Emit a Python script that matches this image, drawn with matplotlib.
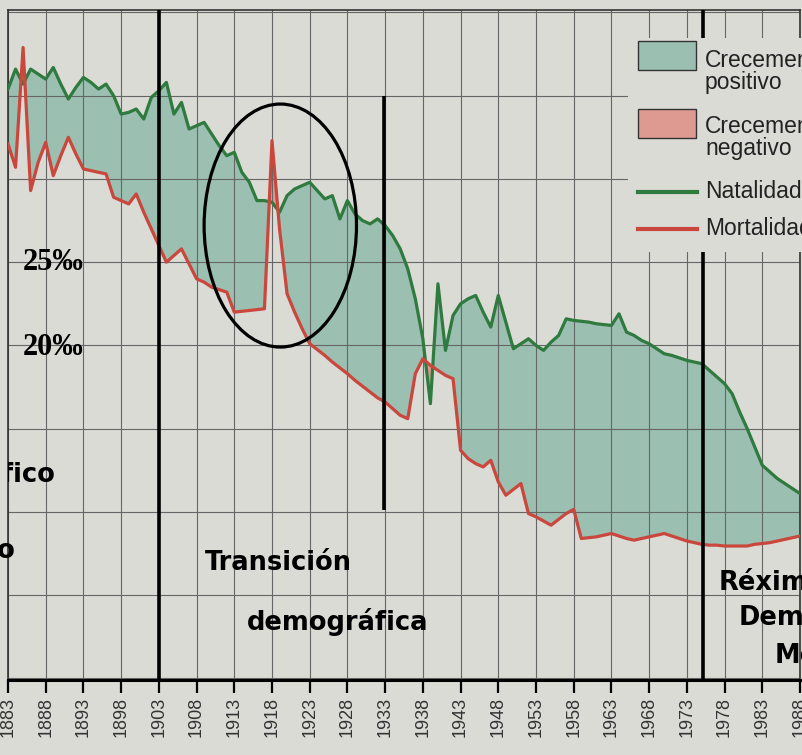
import matplotlib
matplotlib.use('Agg')
import numpy as np
import matplotlib.pyplot as plt
from matplotlib.patches import Ellipse, Rectangle
from matplotlib.lines import Line2D

anos = list(range(1883, 1989))

natalidade = [
    35.4, 36.6, 35.7, 36.6, 36.3, 36.0, 36.7, 35.7, 34.8, 35.5,   # 1883-1892
    36.1, 35.8, 35.4, 35.7, 35.0, 33.9, 34.0, 34.2, 33.6, 34.9,   # 1893-1902
    35.3, 35.8, 33.9, 34.6, 33.0, 33.2, 33.4, 32.7, 32.0, 31.4,   # 1903-1912
    31.6, 30.4, 29.8, 28.7, 28.7, 28.6, 28.0, 29.0, 29.4, 29.6,   # 1913-1922
    29.8, 29.3, 28.8, 29.0, 27.6, 28.7, 27.9, 27.5, 27.3, 27.6,   # 1923-1932
    27.2, 26.6, 25.8, 24.6, 22.8, 20.4, 16.5, 23.7, 19.7, 21.8,   # 1933-1942
    22.5, 22.8, 23.0, 22.0, 21.1, 23.0, 21.4, 19.8, 20.1, 20.4,   # 1943-1952
    20.0, 19.7, 20.2, 20.6, 21.6, 21.5, 21.45, 21.4, 21.3, 21.25, # 1953-1962
    21.2, 21.9, 20.8, 20.6, 20.3, 20.1, 19.8, 19.5, 19.4, 19.25,  # 1963-1972
    19.1, 19.0, 18.9, 18.5, 18.1, 17.7, 17.1, 16.0, 15.0, 13.9,   # 1973-1982
    12.8, 12.4, 12.0, 11.7, 11.4, 11.1,                           # 1983-1988
]

mortalidade = [
    32.1, 30.7, 37.9, 29.3, 31.0, 32.2, 30.2, 31.4, 32.5, 31.5,   # 1883-1892
    30.6, 30.5, 30.4, 30.3, 28.9, 28.7, 28.5, 29.1, 28.0, 27.0,   # 1893-1902
    26.0, 25.0, 25.4, 25.8, 24.9, 24.0, 23.8, 23.5, 23.35, 23.2,  # 1903-1912
    22.0, 22.05, 22.1, 22.15, 22.2, 32.3, 27.0, 23.1, 22.0, 21.0, # 1913-1922
    20.1, 19.75, 19.4, 19.0, 18.65, 18.3, 17.9, 17.55, 17.2, 16.85, # 1923-1932
    16.6, 16.2, 15.8, 15.6, 18.3, 19.2, 18.8, 18.5, 18.2, 18.0,   # 1933-1942
    13.7, 13.2, 12.9, 12.7, 13.1, 11.8, 11.0, 11.35, 11.7, 9.9,   # 1943-1952
    9.7, 9.45, 9.2, 9.55, 9.9, 10.15, 8.4, 8.45, 8.5, 8.6,        # 1953-1962
    8.7, 8.55, 8.4, 8.3, 8.4, 8.5, 8.6, 8.7, 8.55, 8.4,           # 1963-1972
    8.25, 8.15, 8.05, 8.0, 8.0, 7.95, 7.95, 7.95, 7.95, 8.05,     # 1973-1982
    8.1, 8.15, 8.25, 8.35, 8.45, 8.55,                            # 1983-1988
]

ticks_anos = list(range(1883, 1989, 5))

# cores
fondo = '#dbdbd6'
verde = '#2f7a3f'
vermello = '#c9473c'
verde_fill = '#9bbfb1'
rosa_fill = '#de9a90'

W, H = 802, 755


def px(x, y):
    # pixel (dende arriba á esquerda) -> coordenadas da figura
    return x / W, 1 - y / H


nat = np.array(natalidade)
mort = np.array(mortalidade)

fig = plt.figure(figsize=(W / 100, H / 100), dpi=100, facecolor=fondo)
ax = fig.add_axes([8 / W, 75 / H, 792 / W, 670 / H])
ax.set_facecolor(fondo)

ax.fill_between(anos, nat, mort, where=nat >= mort, interpolate=True,
                color=verde_fill, lw=0, zorder=1)
ax.fill_between(anos, nat, mort, where=nat < mort, interpolate=True,
                color=rosa_fill, lw=0, zorder=1)
ax.plot(anos, nat, color=verde, lw=2.3, zorder=3)
ax.plot(anos, mort, color=vermello, lw=2.3, zorder=3)

ax.set_xlim(1883.1, 1987.75)
ax.set_ylim(-0.1, 40.15)
ax.set_xticks(ticks_anos)
ax.set_yticks(np.arange(0, 41, 5))
ax.set_axisbelow('line')
ax.grid(True, color='#666666', lw=0.8)
ax.tick_params(axis='y', left=False, labelleft=False)
ax.tick_params(axis='x', direction='out', length=9, width=1.6, color='black',
               labelsize=13, labelcolor='#333333', labelrotation=90, pad=3)
for lab in ax.get_xticklabels():
    lab.set_family('Liberation Sans')

for s in ['left', 'top', 'right']:
    ax.spines[s].set_color('#333333')
    ax.spines[s].set_linewidth(1.2)
ax.spines['bottom'].set_color('black')
ax.spines['bottom'].set_linewidth(2.2)

# separacion das fases
ax.axvline(1903.0, color='black', lw=2.6, zorder=4)
ax.vlines(1932.9, 10.1, 35.0, color='black', lw=2.6, zorder=4)
ax.axvline(1975.2, color='black', lw=2.6, zorder=4)

# circulo da gripe de 1918
ax.add_patch(Ellipse((1919.1, 27.2), 20.2, 14.6, fill=False, ec='black', lw=2.3, zorder=5))

# textos
for v, txt in [(25.0, '25‰'), (19.85, '20‰')]:
    ax.text(1885.0, v, txt, family='Liberation Serif', fontweight='bold', fontsize=22,
            va='center', ha='left', zorder=6)

fase = dict(family='DejaVu Sans', fontweight='bold', fontsize=18.5, va='baseline', zorder=6)
ax.text(1889.3, 11.8, 'demográfico', ha='right', clip_on=True, **fase)
ax.text(1884.0, 7.2, 'antigo', ha='right', **fase)
ax.text(1909.1, 6.5, 'Transición', ha='left', **fase)
ax.text(1914.7, 2.9, 'demográfica', ha='left', **fase)
ax.text(1977.2, 5.3, 'Réxime', ha='left', **fase)
ax.text(1979.8, 3.2, 'Demográfico', ha='left', **fase)
ax.text(1984.6, 0.9, 'Moderno', ha='left', **fase)

# lenda (cortada polo bordo dereito, coma no orixinal)
fig.add_artist(Rectangle(px(628, 252), (W - 628) / W, 214 / H, transform=fig.transFigure,
                         fc=fondo, ec='none', zorder=7))
for y0, cor in [(41, verde_fill), (109, rosa_fill)]:
    fig.add_artist(Rectangle(px(638, y0 + 29), 58 / W, 29 / H, transform=fig.transFigure,
                             fc=cor, ec='#333333', lw=1, zorder=8))
for y0, cor in [(192, verde), (229, vermello)]:
    x0, yy = px(638, y0)
    x1, _ = px(697, y0)
    fig.add_artist(Line2D([x0, x1], [yy, yy], transform=fig.transFigure,
                          color=cor, lw=3, zorder=8))
ley = dict(family='Liberation Sans', fontsize=16.5, color='#222222', va='baseline', zorder=9)
for y0, txt in [(67, 'Crecemento'), (89, 'positivo'), (133, 'Crecemento'),
                (155, 'negativo'), (198, 'Natalidade'), (235, 'Mortalidade')]:
    fig.text(*px(705, y0), txt, **ley)

fig.savefig('out.png', dpi=100, facecolor=fondo)
